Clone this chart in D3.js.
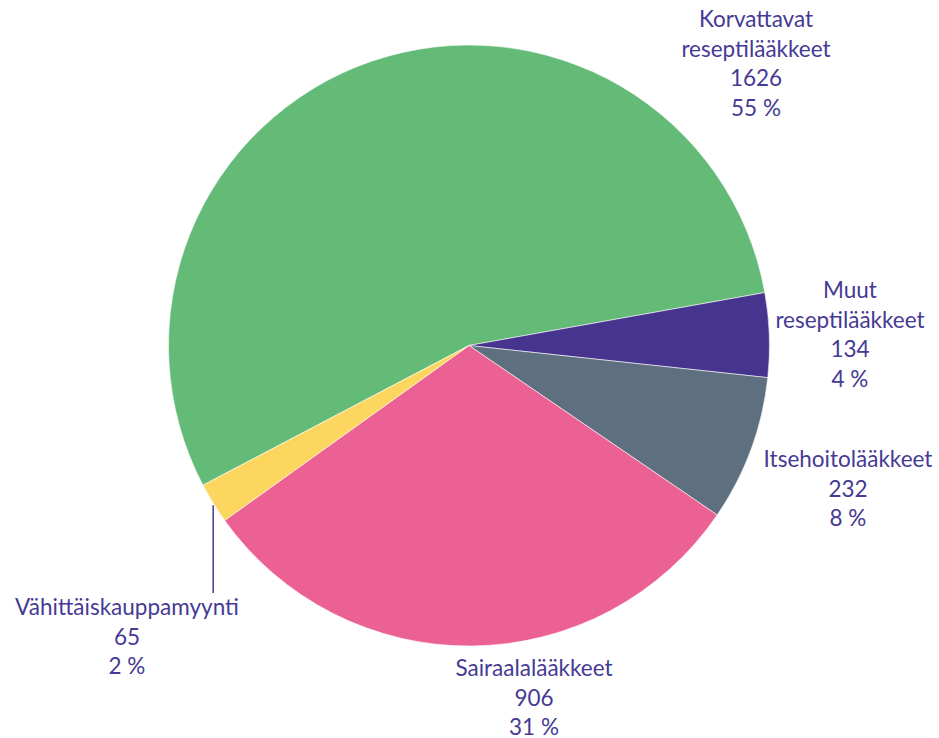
<!DOCTYPE html>
<html>
<head>
<meta charset="utf-8">
<script src="https://cdn.jsdelivr.net/npm/d3@7"></script>
<style>
  html, body { margin: 0; padding: 0; background: #fff; }
  svg { display: block; }
  text { font-family: Lato, "Open Sans", sans-serif; fill: #453a94; }
</style>
</head>
<body>
<svg width="939" height="738"></svg>
<script>
// data
const categories = ['Korvattavat reseptilääkkeet', 'Muut reseptilääkkeet', 'Itsehoitolääkkeet', 'Sairaalalääkkeet', 'Vähittäiskauppamyynti'];
const values = [1626, 134, 232, 906, 65];
const percents = ['55 %', '4 %', '8 %', '31 %', '2 %'];
const labelLines = [
  ['Korvattavat', 'reseptilääkkeet'],
  ['Muut', 'reseptilääkkeet'],
  ['Itsehoitolääkkeet'],
  ['Sairaalalääkkeet'],
  ['Vähittäiskauppamyynti']
];

// layout
const colors = ['#64bb78', '#47348f', '#5e707f', '#ec6194', '#fdd660'];
const cx = 469, cy = 345.5, radius = 300.5;
const lineH = 29.5;
// first baseline of each label block
const labelPos = [
  { x: 756, y: 27 },
  { x: 850, y: 298 },
  { x: 848, y: 467 },
  { x: 534, y: 676 },
  { x: 127, y: 615 }
];

const svg = d3.select('svg');
const g = svg.append('g').attr('transform', `translate(${cx},${cy})`);

const pie = d3.pie()
  .sort(null)
  .startAngle(-117.7 * Math.PI / 180)
  .endAngle((360 - 117.7) * Math.PI / 180)
  .value((d) => d);
const arcs = pie(values);

const arc = d3.arc().innerRadius(0).outerRadius(radius);

g.selectAll('path.slice')
  .data(arcs)
  .join('path')
  .attr('class', 'slice')
  .attr('d', arc)
  .style('fill', (d, i) => colors[i])
  .style('stroke', '#fff')
  .style('stroke-width', 0.8)
  .style('stroke-opacity', 0.7);

// leader line for the small slice
const small = arcs[4];
const mid = (small.startAngle + small.endAngle) / 2;
const lx = Math.sin(mid) * radius;
const ly = -Math.cos(mid) * radius;
g.append('line')
  .attr('x1', lx).attr('y1', ly + 2)
  .attr('x2', lx).attr('y2', labelPos[4].y - cy - 22)
  .style('stroke', '#453a94')
  .style('stroke-width', 1.5);

// labels
const labels = svg.selectAll('text.label')
  .data(arcs)
  .join('text')
  .attr('class', 'label')
  .attr('text-anchor', 'middle')
  .style('font-size', '22.5px');

labels.each(function(d, i) {
  const lines = labelLines[i].concat([String(values[i]), percents[i]]);
  d3.select(this).selectAll('tspan')
    .data(lines)
    .join('tspan')
    .attr('x', labelPos[i].x)
    .attr('y', (t, j) => labelPos[i].y + j * lineH)
    .text((t) => t);
});
</script>
</body>
</html>
